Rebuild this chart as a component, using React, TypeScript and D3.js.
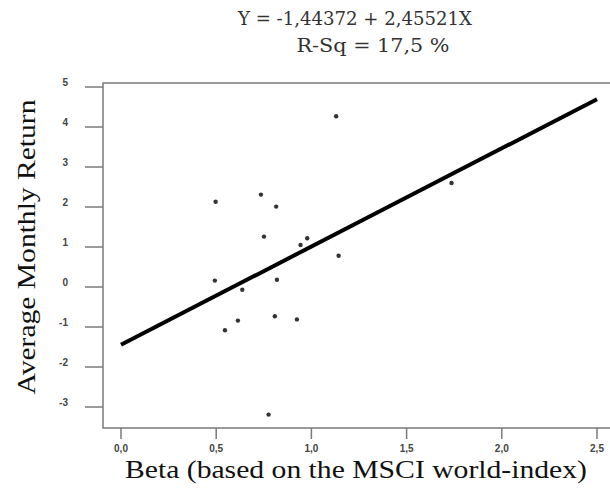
import React, { useEffect, useRef } from 'react';
import * as d3 from 'd3';

// Data
const betas = [1.13, 0.735, 0.497, 0.815, 0.751, 0.978, 0.943, 1.143, 0.493, 0.819, 0.637, 0.614, 0.546, 0.808, 0.924, 0.775, 1.736];
const returns = [4.27, 2.31, 2.13, 2.01, 1.26, 1.22, 1.05, 0.78, 0.16, 0.18, -0.07, -0.84, -1.08, -0.73, -0.81, -3.19, 2.6];

const intercept = -1.44372;
const slope = 2.45521;

const xTicks = [0, 0.5, 1, 1.5, 2, 2.5];
const xTickLabels = ['0,0', '0,5', '1,0', '1,5', '2,0', '2,5'];
const yTicks = [5, 4, 3, 2, 1, 0, -1, -2, -3];

const titleLines = ['Y = -1,44372 + 2,45521X', 'R-Sq = 17,5 %'];
const xTitle = 'Beta (based on the MSCI world-index)';
const yTitle = 'Average Monthly Return';

export default function App() {
  const ref = useRef<SVGSVGElement | null>(null);

  useEffect(() => {
    const svgWidth = 610;
    const svgHeight = 499;

    const svg = d3.select(ref.current);
    svg.selectAll('*').remove();
    svg.attr('width', svgWidth).attr('height', svgHeight);

    const x = d3.scaleLinear().domain([0, 2.5]).range([121, 597]);
    const y = d3.scaleLinear().domain([-3, 5]).range([407, 87]);

    // Frame (no right edge)
    const frameLeft = 103;
    const frameTop = 83;
    const frameBottom = 428;
    const frameColor = '#7a7a7a';

    svg.append('path')
      .attr('d', `M${svgWidth},${frameTop}H${frameLeft}V${frameBottom}H${svgWidth}`)
      .attr('fill', 'none')
      .attr('stroke', frameColor)
      .attr('stroke-width', 1.5);

    // x ticks
    const xt = svg.append('g');
    xt.selectAll('line')
      .data(xTicks)
      .enter()
      .append('line')
        .attr('x1', d => x(d))
        .attr('x2', d => x(d))
        .attr('y1', frameBottom)
        .attr('y2', frameBottom + 11)
        .attr('stroke', frameColor)
        .attr('stroke-width', 1.5);
    xt.selectAll('text')
      .data(xTicks)
      .enter()
      .append('text')
        .text((d, i) => xTickLabels[i])
        .attr('x', d => x(d))
        .attr('y', 452)
        .attr('text-anchor', 'middle')
        .attr('font-family', 'Liberation Sans, sans-serif')
        .attr('font-size', '10px')
        .attr('font-weight', 'bold')
        .attr('fill', '#444');

    // y ticks
    const yt = svg.append('g');
    yt.selectAll('line')
      .data(yTicks)
      .enter()
      .append('line')
        .attr('x1', 85)
        .attr('x2', frameLeft)
        .attr('y1', d => y(d))
        .attr('y2', d => y(d))
        .attr('stroke', frameColor)
        .attr('stroke-width', 1.5);
    yt.selectAll('text')
      .data(yTicks)
      .enter()
      .append('text')
        .text(d => String(d))
        .attr('x', 68)
        .attr('y', d => y(d) - 1)
        .attr('text-anchor', 'end')
        .attr('font-family', 'Liberation Sans, sans-serif')
        .attr('font-size', '10px')
        .attr('font-weight', 'bold')
        .attr('fill', '#444');

    // Points
    svg.append('g')
      .selectAll('circle')
      .data(betas)
      .enter()
      .append('circle')
        .attr('cx', d => x(d))
        .attr('cy', (d, i) => y(returns[i]))
        .attr('r', 2.2)
        .attr('fill', '#333');

    // Fitted line
    const line = d3.line<number>()
      .x(d => x(d))
      .y(d => y(intercept + slope * d));
    svg.append('path')
      .datum([0, 2.5])
      .attr('d', line)
      .attr('fill', 'none')
      .attr('stroke', 'black')
      .attr('stroke-width', 4);

    // Title
    svg.append('text')
      .text(titleLines[0])
      .attr('x', 355)
      .attr('y', 25)
      .attr('text-anchor', 'middle')
      .attr('font-family', 'DejaVu Serif, serif')
      .attr('font-size', '18px')
      .attr('textLength', 234)
      .attr('lengthAdjust', 'spacingAndGlyphs')
      .attr('fill', '#333');
    svg.append('text')
      .text(titleLines[1])
      .attr('x', 373)
      .attr('y', 52)
      .attr('text-anchor', 'middle')
      .attr('font-family', 'DejaVu Serif, serif')
      .attr('font-size', '18px')
      .attr('textLength', 153)
      .attr('lengthAdjust', 'spacingAndGlyphs')
      .attr('fill', '#333');

    // Axis titles
    svg.append('text')
      .text(xTitle)
      .attr('x', 356)
      .attr('y', 478)
      .attr('text-anchor', 'middle')
      .attr('font-family', 'Liberation Serif, serif')
      .attr('font-size', '25px')
      .attr('textLength', 462)
      .attr('lengthAdjust', 'spacingAndGlyphs')
      .attr('fill', '#111');
    svg.append('text')
      .text(yTitle)
      .attr('transform', 'translate(35, 247) rotate(-90)')
      .attr('text-anchor', 'middle')
      .attr('font-family', 'Liberation Serif, serif')
      .attr('font-size', '25px')
      .attr('textLength', 295)
      .attr('lengthAdjust', 'spacingAndGlyphs')
      .attr('fill', '#111');
  }, []);

  return <svg ref={ref} style={{ position: 'absolute', left: 0, top: 0 }} />;
}
